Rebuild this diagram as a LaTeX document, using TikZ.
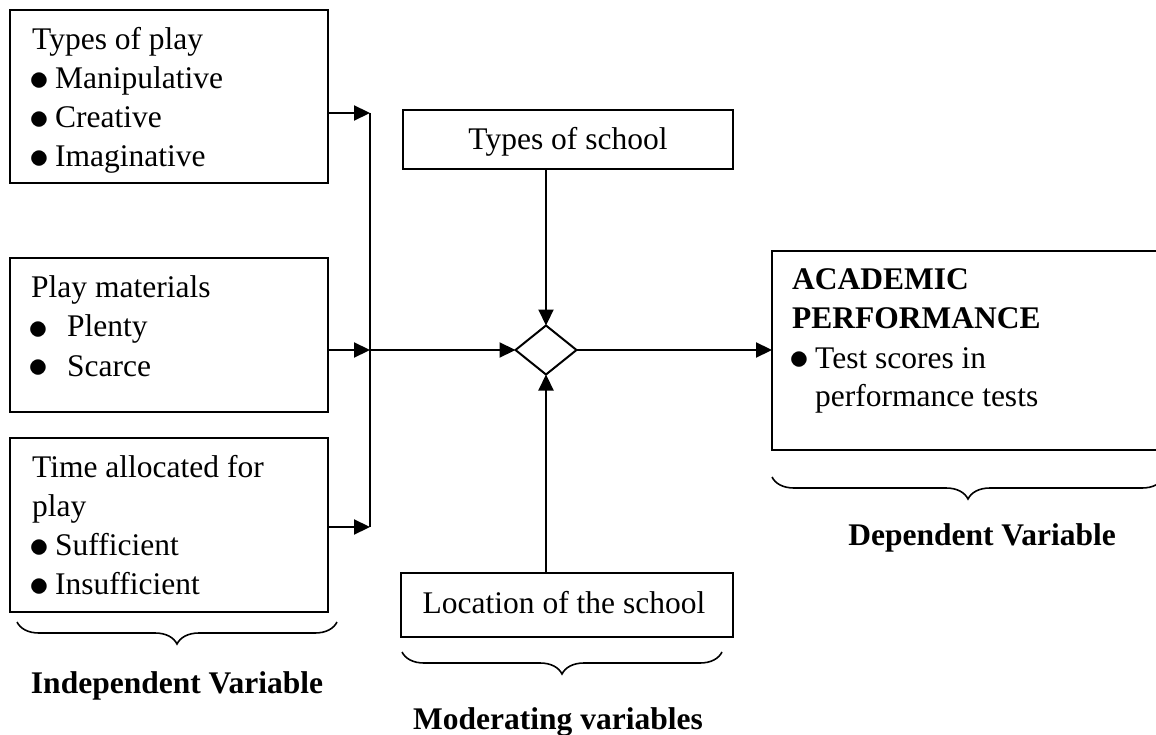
\documentclass[tikz,border=0pt]{standalone}
\usepackage{fontspec}
\setmainfont{Liberation Serif}
\usetikzlibrary{arrows.meta,shapes.geometric,decorations.pathreplacing}
\newcommand\lns[1]{\vtop{\baselineskip=39pt\lineskiplimit=-100pt\relax #1}}
\newcommand\bul{\hspace*{-2.5pt}\smash{\raisebox{-2pt}{\scalebox{1.6}{$\bullet$}}}}
\begin{document}
\begin{tikzpicture}[x=1pt,y=-1pt,
  box/.style={draw, line width=2pt, rectangle, inner sep=0pt, outer sep=0pt, anchor=north west},
  txt/.style={inner sep=0pt, anchor=base west, font=\fontsize{31.5}{39}\selectfont},
  ctxt/.style={inner sep=0pt, anchor=base, font=\fontsize{31.5}{39}\selectfont},
  lbl/.style={inner sep=0pt, anchor=base, font=\fontsize{31.5}{39}\selectfont\bfseries},
  arr/.style={line width=2.2pt, -{Triangle[length=16pt,width=15pt]}},
  ln/.style={line width=2.2pt},
  brc/.style={decorate, decoration={brace, mirror, amplitude=22pt}, line width=1.6pt}
]
\useasboundingbox (0,0) rectangle (1156,735);
\clip (0,0) rectangle (1156,735);

% independent variable boxes
\node[box, minimum width=318pt, minimum height=173pt] (b1) at (10,10) {};
\node[txt] (t1) at (32,50) {\lns{\hbox{Types of play}\hbox{\makebox[23pt][l]{\bul}Manipulative}\hbox{\makebox[23pt][l]{\bul}Creative}\hbox{\makebox[23pt][l]{\bul}Imaginative}}};

\node[box, minimum width=318pt, minimum height=154pt] (b2) at (10,258) {};
\node[txt] (t2) at (31,298) {\lns{\hbox{Play materials}\hbox{\makebox[36pt][l]{\bul}Plenty}\hbox{\makebox[36pt][l]{\bul}Scarce}}};

\node[box, minimum width=318pt, minimum height=174pt] (b3) at (10,438) {};
\node[txt] (t3) at (32,477) {\lns{\hbox{Time allocated for}\hbox{play}\hbox{\makebox[23pt][l]{\bul}Sufficient}\hbox{\makebox[23pt][l]{\bul}Insufficient}}};

% moderating boxes
\node[box, minimum width=330pt, minimum height=59pt] (ts) at (403,110) {};
\node[ctxt] (tst) at (568,150) {Types of school};
\node[box, minimum width=332pt, minimum height=64pt] (loc) at (401,573) {};
\node[ctxt] (loct) at (564,613) {Location of the school};

% diamond
\node[diamond, draw, line width=2pt, minimum width=61pt, minimum height=49pt, inner sep=0pt, outer sep=0pt] (d) at (546,350) {};

% dependent box
\node[box, minimum width=392pt, minimum height=199pt] (b4) at (772,251) {};
\node[txt] (t4) at (792,290) {\lns{\hbox{\bfseries ACADEMIC}\hbox{\bfseries PERFORMANCE}\hbox{\makebox[23pt][l]{\bul}Test scores in}\hbox{\hspace*{23pt}performance tests}}};

% collector
\coordinate (j1) at (370,113);
\coordinate (j2) at (370,350);
\coordinate (j3) at (370,527);
\draw[ln] (j1) -- (j3);
\draw[arr] (b1.east |- j1) -- (j1);
\draw[arr] (b2.east |- j2) -- (j2);
\draw[arr] (b3.east |- j3) -- (j3);
\draw[arr] (j2) -- (d.west);
\draw[arr] (d |- ts.south) -- (d.north);
\draw[arr] (d |- loc.north) -- (d.south);
\draw[arr] (d.east) -- (d -| b4.west);

% braces and labels
\draw[brc] (17,622) -- (337,622);
\draw[brc] (402,652) -- (722,652);
\draw[brc] (772,477) -- (1164,477);
\node[lbl] (iv) at (177,693) {Independent Variable};
\node[lbl] (mv) at (558,729) {Moderating variables};
\node[lbl] (dv) at (982,545) {Dependent Variable};
\end{tikzpicture}
\end{document}
